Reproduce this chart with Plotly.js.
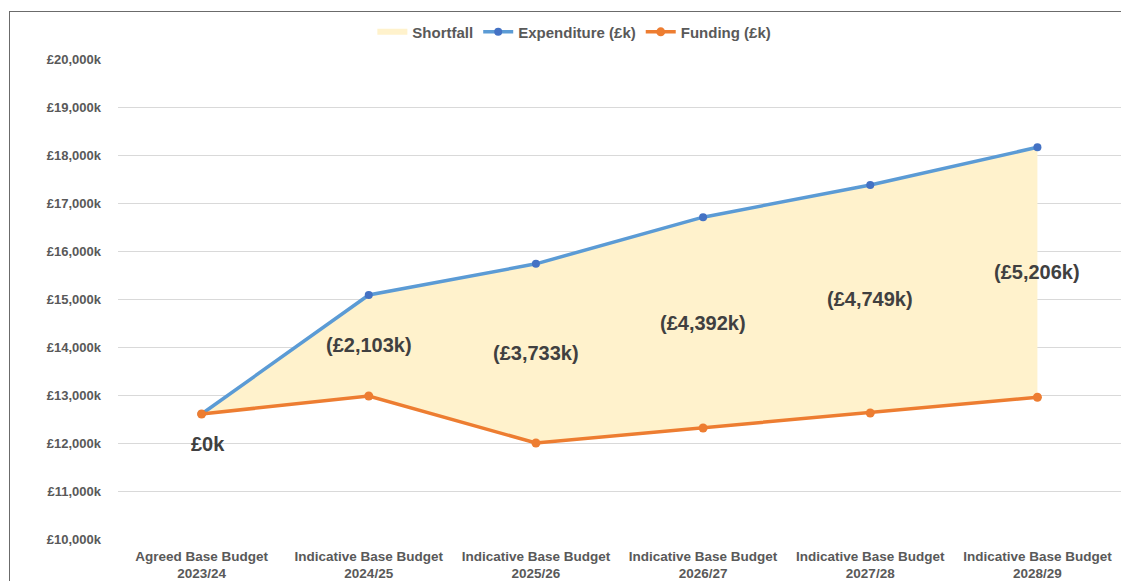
<!DOCTYPE html>
<html>
<head>
<meta charset="utf-8">
<script src="https://cdn.plot.ly/plotly-3.0.1.min.js"></script>
<style>
html,body{margin:0;padding:0;background:#fff;}
#wrap{position:relative;width:1121px;height:581px;}
#chart{position:absolute;left:0;top:0;width:1121px;height:581px;}
#frame{position:absolute;left:9px;top:11px;width:1112px;height:570px;border-left:1.5px solid #6b6b6b;border-top:1.5px solid #6b6b6b;pointer-events:none;}
</style>
</head>
<body>
<div id="wrap"><div id="chart"></div><div id="frame"></div></div>
<script>
var categories = ["Agreed Base Budget<br>2023/24","Indicative Base Budget<br>2024/25","Indicative Base Budget<br>2025/26","Indicative Base Budget<br>2026/27","Indicative Base Budget<br>2027/28","Indicative Base Budget<br>2028/29"];
var expenditure = [12604, 15083, 15733, 16705, 17375, 18160];
var funding = [12604, 12980, 12000, 12313, 12626, 12954];
var shortfallLabels = ["£0k","(£2,103k)","(£3,733k)","(£4,392k)","(£4,749k)","(£5,206k)"];
var yTickVals = [10000,11000,12000,13000,14000,15000,16000,17000,18000,19000,20000];
var yTickText = ["£10,000k","£11,000k","£12,000k","£13,000k","£14,000k","£15,000k","£16,000k","£17,000k","£18,000k","£19,000k","£20,000k"];

var xs = categories.map(function(_, i){ return i; });
var font = "Liberation Sans, Arial, sans-serif";

var traces = [
  {x: xs, y: funding, mode: 'lines', line: {width: 0, color: 'rgba(0,0,0,0)'}, showlegend: false, hoverinfo: 'skip'},
  {x: xs, y: expenditure, mode: 'none', fill: 'tonexty', fillcolor: '#FFF2CC', name: 'Shortfall', hoverinfo: 'skip'},
  {x: xs, y: expenditure, mode: 'lines+markers', name: 'Expenditure (£k)',
   line: {color: '#5B9BD5', width: 3.5}, marker: {color: '#4472C4', size: 8}},
  {x: xs, y: funding, mode: 'lines+markers', name: 'Funding (£k)',
   line: {color: '#ED7D31', width: 3.5}, marker: {color: '#ED7D31', size: 9}}
];

var annotations = xs.map(function(i){
  var mid = (expenditure[i] + funding[i]) / 2;
  var a = {x: i, y: mid, text: shortfallLabels[i], showarrow: false,
    font: {family: font, size: 20, color: '#404040', weight: 'bold'}, xanchor: 'center', yanchor: 'middle'};
  if (i === 0) { a.yshift = -30; a.xshift = 6; }
  return a;
});

var layout = {
  width: 1121, height: 581,
  margin: {l: 118, r: 0, t: 59, b: 42},
  paper_bgcolor: '#ffffff', plot_bgcolor: '#ffffff',
  showlegend: true,
  legend: {orientation: 'h', x: 0.455, xanchor: 'center', y: 1.056, yanchor: 'middle',
    font: {family: font, size: 15, color: '#595959', weight: 'bold'}, traceorder: 'normal', itemwidth: 30},
  xaxis: {range: [-0.5, 5.5], tickvals: xs, ticktext: categories, showgrid: false, zeroline: false,
    showline: false, ticks: '', ticklabelstandoff: 7, tickfont: {family: font, size: 13.5, color: '#595959', weight: 'bold'}, fixedrange: true},
  yaxis: {range: [10000, 20000], tickvals: yTickVals, ticktext: yTickText, showgrid: true, gridcolor: '#d9d9d9', gridwidth: 1,
    zeroline: false, showline: false, ticks: '', ticklabelstandoff: 16,
    tickfont: {family: font, size: 13, color: '#595959', weight: 'bold'}, fixedrange: true},
  annotations: annotations
};

Plotly.newPlot('chart', traces, layout, {displayModeBar: false, staticPlot: true});
</script>
</body>
</html>
